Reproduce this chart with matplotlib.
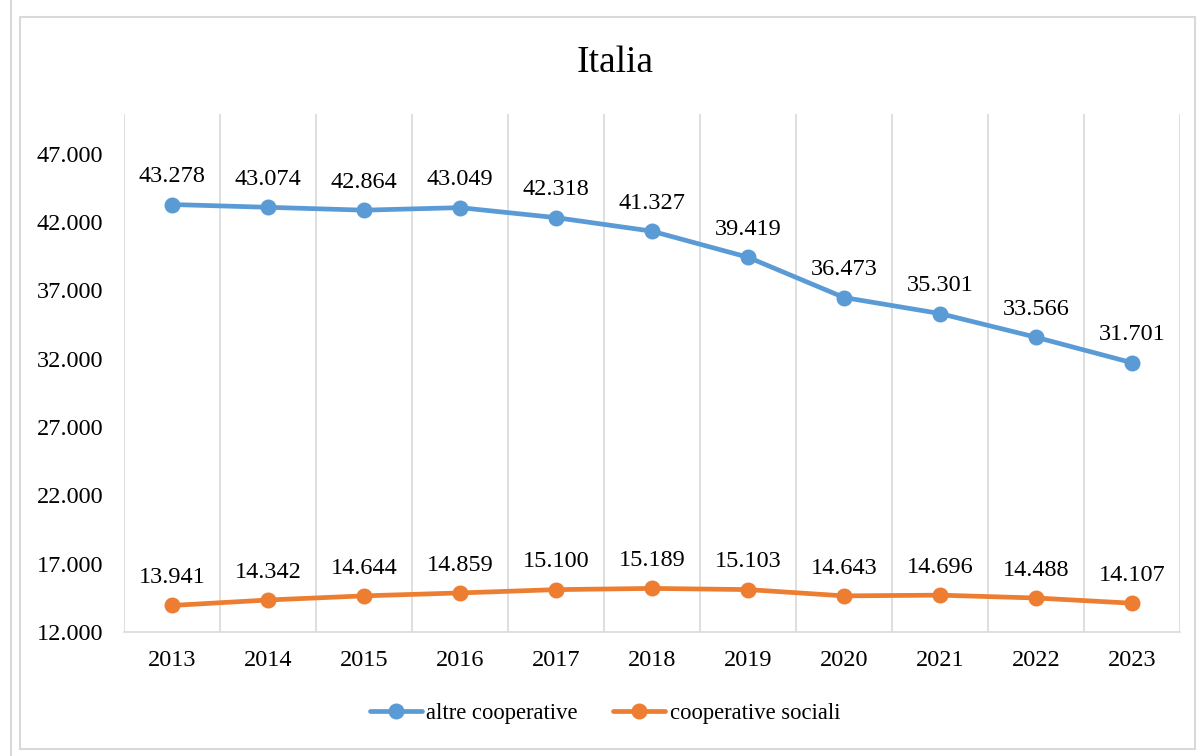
import matplotlib
matplotlib.use("Agg")
import matplotlib.pyplot as plt
from matplotlib.patches import Rectangle

plt.rcParams['font.family'] = ['Liberation Serif', 'DejaVu Serif']

years = ["2013", "2014", "2015", "2016", "2017", "2018", "2019", "2020", "2021", "2022", "2023"]
altre = [43278, 43074, 42864, 43049, 42318, 41327, 39419, 36473, 35301, 33566, 31701]
sociali = [13941, 14342, 14644, 14859, 15100, 15189, 15103, 14643, 14696, 14488, 14107]
yticks = [12000, 17000, 22000, 27000, 32000, 37000, 42000, 47000]

blue = "#5B9BD5"
orange = "#ED7D31"
grid_col = "#D9D9D9"


def fmt(v):
    return f"{v:,}".replace(",", ".")


fig = plt.figure(figsize=(12.03, 7.56), dpi=100)
ax = fig.add_axes([124 / 1203, 1 - 632 / 756, (1180 - 124) / 1203, (632 - 114) / 756])

x = list(range(len(years)))
ax.plot(x, altre, color=blue, lw=3.4, marker='o', ms=10.5, label="altre cooperative",
        solid_capstyle='round', zorder=3)
ax.plot(x, sociali, color=orange, lw=3.4, marker='o', ms=10.5, label="cooperative sociali",
        solid_capstyle='round', zorder=3)

for i in x:
    ax.annotate(fmt(altre[i]), (i, altre[i]), xytext=(0, 20), textcoords='offset points',
                ha='center', va='center', fontsize=17.5)
    ax.annotate(fmt(sociali[i]), (i, sociali[i]), xytext=(0, 20), textcoords='offset points',
                ha='center', va='center', fontsize=17.5)

ax.set_xlim(-0.5, len(years) - 0.5)
ax.set_ylim(12000, 49900)
ax.set_xticks(x)
ax.set_xticklabels(years)
ax.set_yticks(yticks)
ax.set_yticklabels([fmt(v) for v in yticks])
ax.tick_params(length=0, labelsize=17.5)
ax.tick_params(axis='x', pad=13)
ax.tick_params(axis='y', pad=15)

for b in range(len(years) + 1):
    ax.axvline(b - 0.5, color=grid_col, lw=1.2, zorder=0)

for s in ['top', 'right', 'left']:
    ax.spines[s].set_visible(False)
ax.spines['bottom'].set_color(grid_col)
ax.spines['bottom'].set_linewidth(1.2)

fig.text(615 / 1203, 1 - 63 / 756, "Italia", ha='center', va='center', fontsize=27)

fig.legend(loc='center', bbox_to_anchor=(605 / 1203, 1 - 713 / 756), ncol=2, frameon=False,
           fontsize=16.3, handlelength=2.3, handletextpad=0.2, columnspacing=1.55,
           borderpad=0, borderaxespad=0)

fig.patches.append(Rectangle((20 / 1203, 1 - 749 / 756), (1195 - 20) / 1203, (749 - 17) / 756,
                             transform=fig.transFigure, fill=False, edgecolor=grid_col, lw=1.5))
fig.lines.append(plt.Line2D([11 / 1203, 11 / 1203], [0, 1], transform=fig.transFigure,
                            color=grid_col, lw=1.5))

fig.savefig("out.png", dpi=100)
